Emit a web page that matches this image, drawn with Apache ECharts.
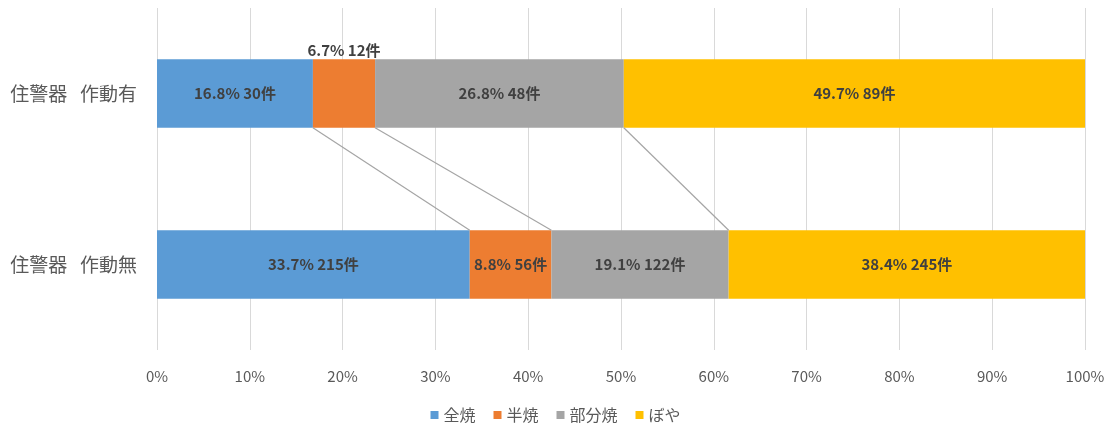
<!DOCTYPE html>
<html><head><meta charset="utf-8">
<script src="https://cdn.jsdelivr.net/npm/echarts@6/dist/echarts.min.js"></script>
<style>html,body{margin:0;padding:0;background:#fff}#c{width:1111px;height:430px}</style>
</head><body><div id="c"></div>
<script>
const categories = ['住警器   作動有', '住警器   作動無'];
const seriesNames = ['全焼', '半焼', '部分焼', 'ぼや'];
const pct全焼 = [16.8, 33.7];
const pct半焼 = [6.7, 8.8];
const pct部分焼 = [26.8, 19.1];
const pctぼや = [49.7, 38.4];
const cnt全焼 = [30, 215];
const cnt半焼 = [12, 56];
const cnt部分焼 = [48, 122];
const cntぼや = [89, 245];
const xTicks = ['0%','10%','20%','30%','40%','50%','60%','70%','80%','90%','100%'];

const pcts = [pct全焼, pct半焼, pct部分焼, pctぼや];
const cnts = [cnt全焼, cnt半焼, cnt部分焼, cntぼや];
const colors = ['#5B9BD5', '#ED7D31', '#A5A5A5', '#FFC000'];
const FONT = '"Noto Sans CJK JP", "Noto Sans", sans-serif';
const BAR_RATIO = 0.4;

// cumulative boundaries for connector lines
const connectors = [];
for (let k = 1; k < pcts.length; k++) {
  let a = 0, b = 0;
  for (let j = 0; j < k; j++) { a += pcts[j][0]; b += pcts[j][1]; }
  connectors.push([a, b]);
}

const series = pcts.map((arr, si) => ({
  name: seriesNames[si],
  type: 'bar',
  stack: 'total',
  barWidth: (BAR_RATIO * 100) + '%',
  itemStyle: { color: colors[si] },
  data: arr.map((v, i) => {
    const item = { value: v };
    if (si === 1 && i === 0) {
      item.label = { position: 'top', distance: 2, offset: [-6, 0] };
    }
    return item;
  }),
  label: {
    show: true,
    position: 'inside',
    color: '#404040',
    fontWeight: 'bold',
    fontSize: 15,
    fontFamily: FONT,
    formatter: p => p.value.toFixed(1) + '% ' + cnts[si][p.dataIndex] + '件'
  },
  labelLayout: { hideOverlap: false },
  emphasis: { disabled: true },
  silent: true
}));

series.push({
  type: 'custom',
  silent: true,
  z: 5,
  data: connectors,
  renderItem: (params, api) => {
    const p1 = api.coord([api.value(0), 0]);
    const p2 = api.coord([api.value(1), 1]);
    const band = api.size([0, 1])[1];
    const half = band * BAR_RATIO / 2;
    return {
      type: 'line',
      shape: { x1: p1[0], y1: p1[1] + half, x2: p2[0], y2: p2[1] - half },
      style: { stroke: '#A5A5A5', lineWidth: 1.2 }
    };
  }
});

const chart = echarts.init(document.getElementById('c'), null, { renderer: 'canvas' });
chart.setOption({
  animation: false,
  grid: { left: 157, right: 26, top: 8, bottom: 80 },
  legend: {
    data: seriesNames,
    bottom: 2,
    left: 'center',
    icon: 'rect',
    itemWidth: 8,
    itemHeight: 8,
    itemGap: 18,
    textStyle: { color: '#595959', fontSize: 16, fontFamily: FONT }
  },
  xAxis: {
    type: 'value',
    min: 0, max: 100, interval: 10,
    axisLine: { show: false },
    axisTick: { show: false },
    splitLine: { show: true, lineStyle: { color: '#D9D9D9', width: 1 } },
    axisLabel: {
      color: '#595959', fontSize: 15, fontFamily: FONT, margin: 19,
      formatter: v => xTicks[Math.round(v / 10)]
    }
  },
  yAxis: {
    type: 'category',
    data: categories,
    inverse: true,
    axisLine: { show: false },
    axisTick: { show: false },
    axisLabel: { color: '#595959', fontSize: 19, fontFamily: FONT, margin: 20 }
  },
  series
});
</script></body></html>
